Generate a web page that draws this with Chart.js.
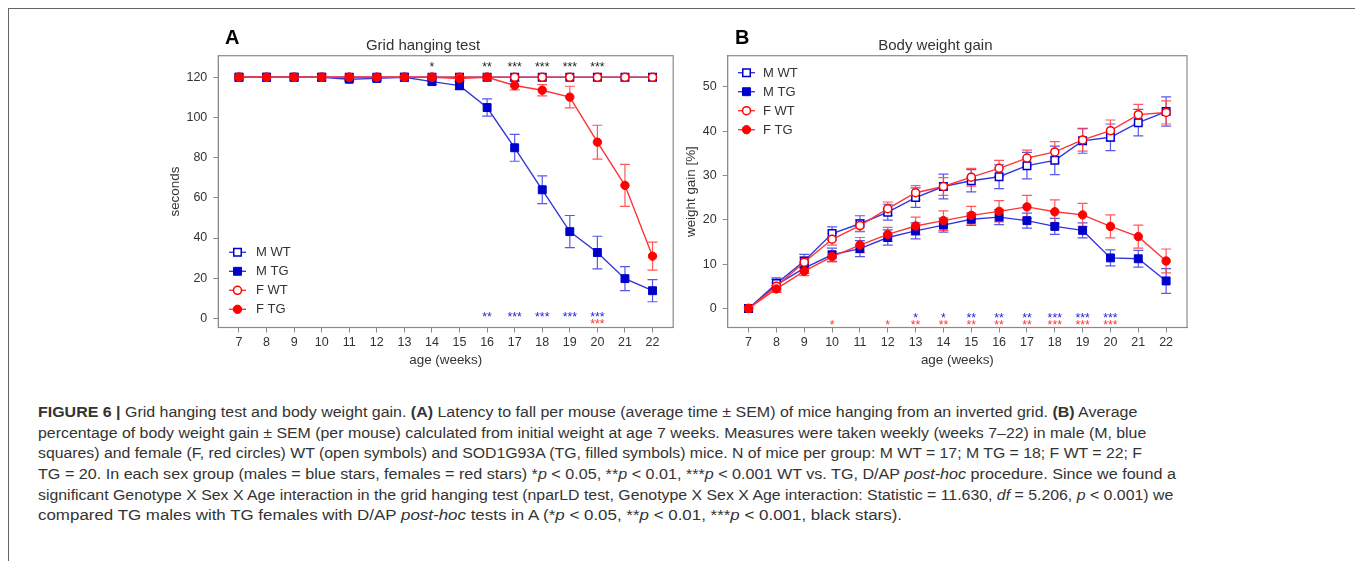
<!DOCTYPE html>
<html><head><meta charset="utf-8">
<script src="https://cdn.jsdelivr.net/npm/chart.js@4.4.1/dist/chart.umd.min.js"></script>
<style>
html,body{margin:0;padding:0;background:#fff;}
#page{position:relative;width:1355px;height:561px;overflow:hidden;background:#fff;}
#frame{position:absolute;left:8px;top:8px;width:1400px;height:600px;border-top:1px solid #666;border-left:1px solid #666;}
#cA{position:absolute;left:0;top:0;}
#cB{position:absolute;left:680px;top:0;}
.plabel{position:absolute;font:bold 20px "Liberation Sans",Arial,sans-serif;line-height:20px;color:#000;}
#caption{position:absolute;left:37.7px;top:401.8px;font-family:"Liberation Sans Narrow","Liberation Sans",Arial,sans-serif;font-size:14px;line-height:20.7px;color:#333;}
#caption div{white-space:nowrap;transform-origin:0 0;width:max-content;}
</style></head>
<body>
<div id="page">
  <div id="frame"></div>
  <canvas id="cA" width="680" height="370" style="width:680px;height:370px"></canvas>
  <canvas id="cB" width="675" height="370" style="width:675px;height:370px"></canvas>
  <div class="plabel" style="left:225px;top:27px">A</div>
  <div class="plabel" style="left:735px;top:27px">B</div>
  <div id="caption">
    <div><b>FIGURE 6 |</b> Grid hanging test and body weight gain. <b>(A)</b> Latency to fall per mouse (average time ± SEM) of mice hanging from an inverted grid. <b>(B)</b> Average</div>
    <div>percentage of body weight gain ± SEM (per mouse) calculated from initial weight at age 7 weeks. Measures were taken weekly (weeks 7–22) in male (M, blue</div>
    <div>squares) and female (F, red circles) WT (open symbols) and SOD1G93A (TG, filled symbols) mice. N of mice per group: M WT = 17; M TG = 18; F WT = 22; F</div>
    <div>TG = 20. In each sex group (males = blue stars, females = red stars) *<i>p</i> &lt; 0.05, **<i>p</i> &lt; 0.01, ***<i>p</i> &lt; 0.001 WT vs. TG, D/AP <i>post-hoc</i> procedure. Since we found a</div>
    <div>significant Genotype X Sex X Age interaction in the grid hanging test (nparLD test, Genotype X Sex X Age interaction: Statistic = 11.630, <i>df</i> = 5.206, <i>p</i> &lt; 0.001) we</div>
    <div>compared TG males with TG females with D/AP <i>post-hoc</i> tests in A (*<i>p</i> &lt; 0.05, **<i>p</i> &lt; 0.01, ***<i>p</i> &lt; 0.001, black stars).</div>
  </div>
</div>
<script>
// ---------- DATA ----------
const weeks = [7,8,9,10,11,12,13,14,15,16,17,18,19,20,21,22];
const weekTicks = [7,8,9,10,11,12,13,14,15,16,17,18,19,20,21,22];
const seriesLabels = ['M WT','M TG','F WT','F TG'];

// Panel A: Grid hanging test (seconds)
const gridTicks = [0,20,40,60,80,100,120];
const gridMWT    = [120,120,120,120,120,120,120,120,120,120,120,120,120,120,120,120];
const gridMWTErr = [0,0,0,0,0,0,0,0,0,0,0,0,0,0,0,0];
const gridMTG    = [120,120,120,120,119.0,119.4,120,117.8,115.8,104.9,84.9,64.0,43.2,32.8,19.8,13.8];
const gridMTGErr = [0,0,0,0,0.8,0.8,0,1.5,2,4.3,6.7,6.9,8,8.1,6,5.5];
const gridFWT    = [120,120,120,120,120,120,120,120,120,120,120,120,120,120,120,120];
const gridFWTErr = [0,0,0,0,0,0,0,0,0,0,0,0,0,0,0,0];
const gridFTG    = [120,120,120,120,120,120,120,120,119.3,120,115.9,113.5,110.1,87.7,66.2,31.0];
const gridFTGErr = [0,0,0,0,0,0,0,0,0.8,0,2.2,2.8,5.4,8.4,10.4,7];
const gridStarsTG = ['','','','','','','','*','','**','***','***','***','***','',''];
const gridStarsM  = ['','','','','','','','','','**','***','***','***','***','',''];
const gridStarsF  = ['','','','','','','','','','','','','','***','',''];

// Panel B: Body weight gain (%)
const weightTicks = [0,10,20,30,40,50];
const wMWT    = [0,5.6,10.7,16.9,19.1,21.7,25.0,27.5,28.8,29.7,32.2,33.4,37.8,38.6,41.9,44.4];
const wMWTErr = [0,1,1.5,1.5,1.8,1.8,2.2,2.8,2.5,2.7,3,3.2,2.8,3,3,3.3];
const wMTG    = [0,5.3,9.1,12.1,13.5,16.0,17.5,18.8,20.1,20.6,19.8,18.5,17.6,11.4,11.2,6.2];
const wMTGErr = [0,1.6,1.2,1.5,1.8,1.7,1.8,1.6,1.4,1.7,1.7,1.8,1.7,1.8,1.9,2.8];
const wFWT    = [0,5.0,10.4,15.6,18.7,22.5,26.1,27.5,29.6,31.6,33.9,35.3,38.0,40.1,43.7,44.2];
const wFWTErr = [0,0.8,1.2,1.3,1.3,1.5,1.6,2,2,1.8,1.8,2.3,2.5,2.4,2.3,2.6];
const wFTG    = [0,4.4,8.4,11.7,14.3,16.7,18.6,19.8,21.0,21.9,22.9,21.8,21.1,18.5,16.2,10.7];
const wFTGErr = [0,0.8,1,1.2,1.7,1.6,2,2.2,2,2.4,2.6,2.7,2.6,2.6,2.6,2.7];
const weightStarsM = ['','','','','','','*','*','**','**','**','***','***','***','',''];
const weightStarsF = ['','','','*','','*','**','**','**','**','**','***','***','***','',''];

// ---------- STYLE ----------
const FONT = '"Liberation Sans", Arial, sans-serif';
const blueLine = '#3535e0', blueFill = '#0000cc', blueErr = 'rgba(70,70,235,0.9)';
const redLine = '#ff3535', redFill = '#ff0000', redErr = 'rgba(255,70,70,0.9)';
const boxColor = '#8a8a8a', textColor = '#333';

const pts = arr => arr.map((v,i)=>({x: weeks[i], y: v}));

function styleFor(idx){
  return [
    {pointStyle:'rect', pointRadius:5.3, bg:'#fff', bc:blueFill, bw:1.5, line:blueLine, err:blueErr, order:2},
    {pointStyle:'rect', pointRadius:5.6, bg:blueFill, bc:blueFill, bw:1, line:blueLine, err:blueErr, order:3},
    {pointStyle:'circle', pointRadius:4, bg:'#fff', bc:redFill, bw:1.5, line:redLine, err:redErr, order:1},
    {pointStyle:'circle', pointRadius:4.2, bg:redFill, bc:redFill, bw:1, line:redLine, err:redErr, order:0}
  ][idx];
}
function makeDatasets(values, errs){
  return values.map((v,i)=>{
    const s = styleFor(i);
    return {
      label: seriesLabels[i], data: pts(v), errs: errs[i], errColor: s.err,
      borderColor: s.line, borderWidth: 1.4, pointStyle: s.pointStyle,
      pointRadius: s.pointRadius, pointBackgroundColor: s.bg, pointBorderColor: s.bc,
      pointBorderWidth: s.bw, order: s.order, tension: 0, fill: false
    };
  });
}

// ---------- PLUGINS ----------
const boxPlugin = {
  id:'boxPlugin',
  beforeDatasetsDraw(chart){
    const {ctx, chartArea:a} = chart;
    ctx.save(); ctx.strokeStyle = boxColor; ctx.lineWidth = 1.2;
    ctx.strokeRect(a.left, a.top, a.right-a.left, a.bottom-a.top);
    ctx.restore();
  }
};
const errorBars = {
  id:'errorBars',
  beforeDatasetsDraw(chart){
    const {ctx, scales:{x,y}} = chart;
    chart.data.datasets.forEach(ds=>{
      if(!ds.errs) return;
      ctx.save(); ctx.strokeStyle = ds.errColor; ctx.lineWidth = 1.2;
      ds.data.forEach((p,i)=>{
        const e = ds.errs[i]; if(!e) return;
        const px = x.getPixelForValue(p.x), y1 = y.getPixelForValue(p.y+e), y2 = y.getPixelForValue(p.y-e);
        ctx.beginPath();
        ctx.moveTo(px,y1); ctx.lineTo(px,y2);
        ctx.moveTo(px-5,y1); ctx.lineTo(px+5,y1);
        ctx.moveTo(px-5,y2); ctx.lineTo(px+5,y2);
        ctx.stroke();
      });
      ctx.restore();
    });
  }
};
const starsPlugin = {
  id:'stars',
  afterDatasetsDraw(chart, args, opts){
    const {ctx, scales:{x,y}} = chart;
    (opts.rows||[]).forEach(r=>{
      ctx.save(); ctx.fillStyle = r.color; ctx.font = '12.3px '+FONT;
      ctx.textAlign = 'center'; ctx.textBaseline = 'alphabetic';
      r.labels.forEach((t,i)=>{
        if(!t) return;
        const px = x.getPixelForValue(weeks[i]), py = y.getPixelForValue(r.level);
        ctx.fillText(t, px, py + 0.575*12.3);
      });
      ctx.restore();
    });
  }
};
function drawMarker(ctx, s, x, y){
  ctx.save();
  ctx.fillStyle = s.bg; ctx.strokeStyle = s.bc; ctx.lineWidth = s.bw;
  ctx.beginPath();
  if(s.pointStyle==='rect'){ const h = Math.SQRT1_2*s.pointRadius; ctx.rect(x-h,y-h,2*h,2*h); }
  else ctx.arc(x,y,s.pointRadius,0,Math.PI*2);
  ctx.fill(); ctx.stroke(); ctx.restore();
}
const legendPlugin = {
  id:'innerLegend',
  afterDraw(chart, args, opts){
    const {ctx, chartArea:a} = chart;
    const y0 = opts.fromBottom ? a.bottom + opts.dy : a.top + opts.dy;
    seriesLabels.forEach((lab,i)=>{
      const s = styleFor(i), yy = y0 + i*opts.gap;
      const lx = a.left + opts.dx;
      ctx.save(); ctx.strokeStyle = s.line; ctx.lineWidth = 1.4;
      ctx.beginPath(); ctx.moveTo(lx, yy); ctx.lineTo(lx+17, yy); ctx.stroke(); ctx.restore();
      drawMarker(ctx, s, lx+8.5, yy);
      ctx.save(); ctx.fillStyle = textColor; ctx.font = '13px '+FONT;
      ctx.textAlign='left'; ctx.textBaseline='middle';
      ctx.fillText(lab, a.left + opts.tx, yy+0.5); ctx.restore();
    });
  }
};

function makeChart(id, cfg){
  return new Chart(document.getElementById(id), {
    type:'line',
    data:{datasets: makeDatasets(cfg.values, cfg.errs)},
    options:{
      responsive:false, animation:false, devicePixelRatio:1,
      layout:{padding:cfg.padding},
      plugins:{
        legend:{display:false}, tooltip:{enabled:false},
        title:{display:true, text:cfg.title, color:textColor, font:{family:FONT, size:15, weight:'normal', lineHeight:1.2}, padding:{top:37, bottom:0.7}},
        stars:{rows:cfg.stars},
        innerLegend:cfg.legend
      },
      scales:{
        x:{type:'linear', min:6.25, max:22.75,
           afterBuildTicks: s=>{ s.ticks = weekTicks.map(v=>({value:v})); },
           afterFit: s=>{ s.height = 40.5; },
           grid:{drawOnChartArea:false, drawTicks:true, tickLength:5, color:boxColor},
           border:{display:true, color:boxColor},
           ticks:{color:textColor, font:{family:FONT, size:12.5}, padding:3, autoSkip:false, maxRotation:0},
           title:{display:true, text:'age (weeks)', color:textColor, font:{family:FONT, size:13.4, lineHeight:1.2}, padding:0}},
        y:{type:'linear', min:cfg.ymin, max:cfg.ymax,
           afterBuildTicks: s=>{ s.ticks = cfg.yticks.map(v=>({value:v})); },
           afterFit: s=>{ s.width = cfg.yw; },
           grid:{drawOnChartArea:false, drawTicks:true, tickLength:5, color:boxColor},
           border:{display:true, color:boxColor},
           ticks:{color:textColor, font:{family:FONT, size:12.5}, padding:6},
           title:{display:true, text:cfg.ytitle, color:textColor, font:{family:FONT, size:13.4, lineHeight:1.2}, padding:0}}
      }
    },
    plugins:[boxPlugin, errorBars, starsPlugin, legendPlugin]
  });
}

makeChart('cA', {
  title:'Grid hanging test', ytitle:'seconds',
  values:[gridMWT, gridMTG, gridFWT, gridFTG], errs:[gridMWTErr, gridMTGErr, gridFWTErr, gridFTGErr],
  ymin:-4.5, ymax:130.7, yticks:gridTicks, yw:51.3,
  padding:{left:167, right:1, top:0, bottom:2},
  stars:[{level:126.5, color:'#222', labels:gridStarsTG},{level:2.5, color:'#2222dd', labels:gridStarsM},{level:-1.3, color:'#ff3333', labels:gridStarsF}],
  legend:{fromBottom:true, dy:-75.2, gap:19, dx:10.7, tx:37.7}
});
makeChart('cB', {
  title:'Body weight gain', ytitle:'weight gain [%]',
  values:[wMWT, wMTG, wFWT, wFTG], errs:[wMWTErr, wMTGErr, wFWTErr, wFTGErr],
  ymin:-4.3, ymax:57, yticks:weightTicks, yw:44,
  padding:{left:3.7, right:168, top:0, bottom:2},
  stars:[{level:-1.4, color:'#2222dd', labels:weightStarsM},{level:-3.1, color:'#ff3333', labels:weightStarsF}],
  legend:{fromBottom:false, dy:17, gap:19, dx:10.3, tx:35.3}
});

// caption line fitting
const targets = [1099.3, 1108.3, 1104, 1138, 1135.3, 864];
function fitCaption(){
  document.querySelectorAll('#caption div').forEach((el,i)=>{
    el.style.transform='none';
    const w = el.getBoundingClientRect().width;
    if(w>0) el.style.transform = 'scaleX('+(targets[i]/w)+')';
  });
}
fitCaption();
if(document.fonts && document.fonts.ready) document.fonts.ready.then(fitCaption);
</script>
</body></html>
